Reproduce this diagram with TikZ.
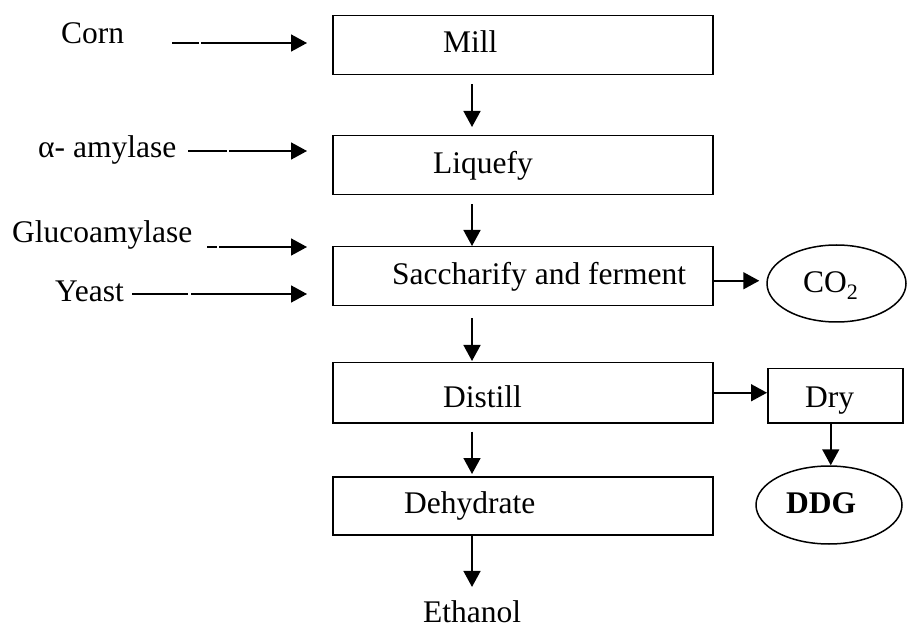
\documentclass[tikz,border=0pt]{standalone}
\usepackage{fontspec}
\setmainfont{Liberation Serif}
\usetikzlibrary{arrows.meta,shapes.geometric}
\begin{document}
\begin{tikzpicture}[x=1pt,y=-1pt,
  font=\fontsize{31.5}{36}\selectfont,
  box/.style={draw,line width=1.5pt,rectangle,inner sep=0pt,anchor=north west},
  oval/.style={draw,line width=1.5pt,ellipse,inner sep=0pt},
  lbl/.style={anchor=base west,inner sep=0pt},
  arr/.style={line width=1.6pt,-{Triangle[length=16pt,width=17pt]}}
]
\useasboundingbox (0,0) rectangle (908,628);
% process boxes
\node[box,minimum width=380pt,minimum height=59pt] (mill) at (332,15) {};
\node[box,minimum width=380pt,minimum height=59pt] (liq) at (332,135) {};
\node[box,minimum width=380pt,minimum height=59pt] (sac) at (332,246) {};
\node[box,minimum width=380pt,minimum height=60pt] (dis) at (332,362) {};
\node[box,minimum width=380pt,minimum height=58pt] (deh) at (332,476) {};
\node[box,minimum width=135pt,minimum height=54pt] (dry) at (767,368) {};
\node[oval,minimum width=139pt,minimum height=77pt] (co2) at (836.5,283.5) {};
\node[oval,minimum width=146pt,minimum height=78pt] (ddg) at (829,505) {};
% labels inside
\node[lbl] (tmill) at (443,53) {Mill};
\node[lbl] (tliq) at (433,174) {Liquefy};
\node[lbl] (tsac) at (392,285) {Saccharify and ferment};
\node[lbl] (tdis) at (443,407) {Distill};
\node[lbl] (tdeh) at (404,513) {Dehydrate};
\node[lbl] (tdry) at (805,407) {Dry};
\node[lbl] (tco2) at (803,293) {CO\textsubscript{2}};
\node[lbl] (tddg) at (786,513) {\textbf{DDG}};
\node[lbl] (eth) at (423,622) {Ethanol};
% inputs
\node[lbl] (corn) at (61,44) {Corn};
\node[lbl] (amy) at (38,158) {α- amylase};
\node[lbl] (glu) at (12,243) {Glucoamylase};
\node[lbl] (yea) at (55,302) {Yeast};
\coordinate (corns) at (172,43);
\coordinate (amys) at (188,151);
\coordinate (glus) at (207,247);
\coordinate (yeas) at (132,294);
\coordinate (sacout) at ([yshift=-4.5pt]sac.east);
\draw[arr,dash pattern=on 27pt off 2pt on 300pt,shorten >=25pt] (corns) -- (mill.west |- corns);
\draw[arr,dash pattern=on 39pt off 2pt on 300pt,shorten >=25pt] (amys) -- (liq.west |- amys);
\draw[arr,dash pattern=on 10pt off 2pt on 300pt,shorten >=25pt] (glus) -- (sac.west |- glus);
\draw[arr,dash pattern=on 56pt off 3pt on 300pt,shorten >=25pt] (yeas) -- (sac.west |- yeas);
% main chain
\draw[arr] ([xshift=140pt,yshift=-9pt]mill.south west) -- ([xshift=140pt,yshift=8pt]liq.north west);
\draw[arr] ([xshift=140pt,yshift=-9pt]liq.south west) -- ([xshift=140pt]sac.north west);
\draw[arr] ([xshift=140pt,yshift=-12pt]sac.south west) -- ([xshift=140pt,yshift=1pt]dis.north west);
\draw[arr] ([xshift=140pt,yshift=-8pt]dis.south west) -- ([xshift=140pt,yshift=2pt]deh.north west);
\coordinate (ethin) at ([yshift=13pt]eth.north);
\draw[arr] ([xshift=140pt]deh.south west) -- ([xshift=140pt]deh.south west |- ethin);
% side outputs
\draw[arr,shorten >=7pt] (sacout) -- (co2.west |- sacout);
\draw[arr] (dis.east) -- (dry.west |- dis.east);
\draw[arr] ([xshift=-4.5pt]dry.south) -- ([xshift=-4.5pt]dry.south |- ddg.north);
\end{tikzpicture}
\end{document}
